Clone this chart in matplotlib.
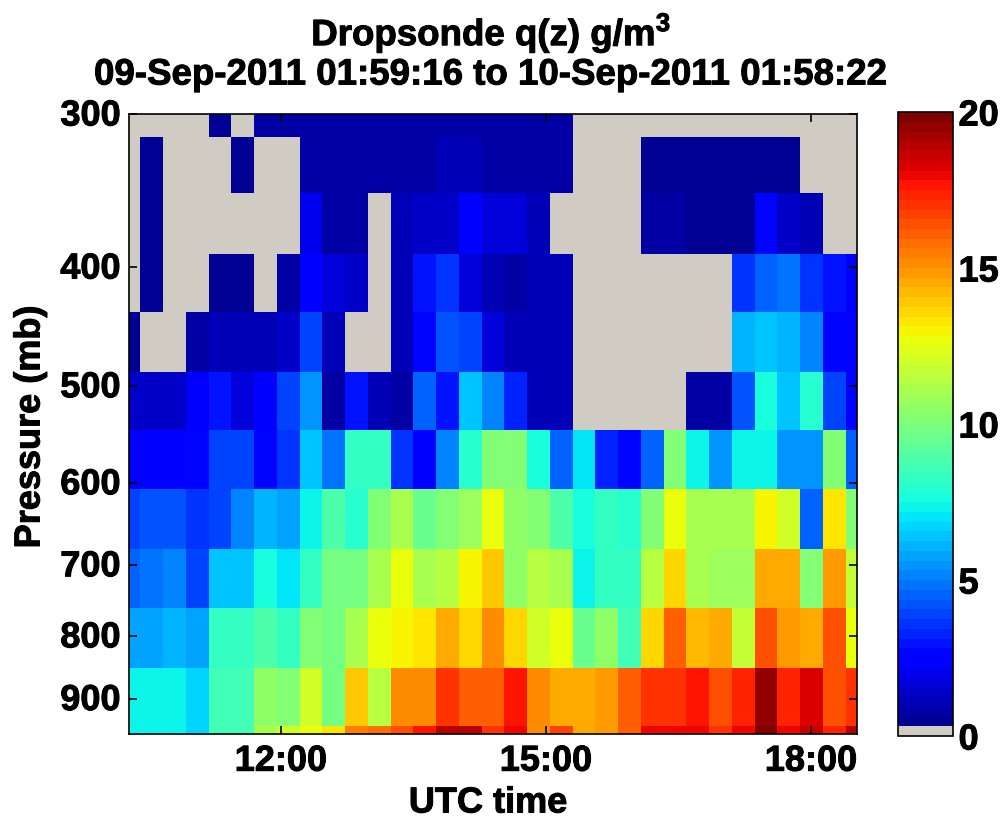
import numpy as np
import matplotlib
matplotlib.use('Agg')
import matplotlib.pyplot as plt
import matplotlib.patheffects as pe
from matplotlib.colors import ListedColormap
from matplotlib.transforms import ScaledTranslation

plt.rcParams['font.family'] = ['Liberation Sans', 'DejaVu Sans']
plt.rcParams['font.weight'] = 'bold'
plt.rcParams['mathtext.fontset'] = 'custom'
plt.rcParams['mathtext.rm'] = 'Liberation Sans'
plt.rcParams['mathtext.bf'] = 'Liberation Sans:bold'

# drop times in hours UTC, one column per sonde
time_start = 10.28
time_end = 18.52
n_sondes = 33

# layer edges in mb, top to bottom
pressure_edges = [300, 313, 348, 390, 435, 487, 543, 607, 680, 759, 850, 948, 962]

# q in g/m3 per layer, 0 means no data (grey)
q_300 = [0, 0, 0, 0, .5, 0, .7, .7, .7, .7, .7, .7, .7, .7, .8, .8, .7, .7, .7, .7,
         0, 0, 0, 0, 0, 0, 0, 0, 0, 0, 0, 0, 0]
q_330 = [0, .5, 0, 0, 0, .5, 0, 0, .8, .8, .8, .8, .8, .8, 1.2, 1.2, .9, .8, .7, .7,
         0, 0, 0, .6, .6, .6, .6, .6, .6, .6, 0, 0, 0]
q_370 = [0, .5, 0, 0, 0, 0, 0, 0, 2, .8, .8, 0, 1, 1.5, 1.5, 2.4, 1.8, 1.6, 1.2, 0,
         0, 0, 0, .7, .7, .6, .6, .6, 2.6, 1.5, 1.2, 0, 0]
q_410 = [0, .5, 0, 0, .5, .5, 0, .8, 2.2, 1.8, 1.5, 0, 1, 3, 3.5, 1.8, 1.2, .9, 1, 1.2,
         0, 0, 0, 0, 0, 0, 0, 3.5, 4.5, 4.7, 3.7, 3, 2.2]
q_460 = [.6, 0, 0, .8, 1, 1, 1, 1.5, 4, 1, 0, 0, 1, 2.5, 4.2, 3.8, 1.7, 1.2, 1, 1.1,
         0, 0, 0, 0, 0, 0, 0, 6, 6.5, 6.2, 5, 2.5, 2.8]
q_515 = [1.5, 1.5, 1.4, 2.4, 3, 1.7, 2.4, 3.8, 5.5, .9, 3, 1, .9, 4.4, 3, 6.3, 5, 3.2, 1, 1.1,
         0, 0, 0, 0, 0, .7, .7, 4.2, 7.7, 6.5, 8, 4, 2.5]
q_575 = [2.2, 2.3, 2.3, 2.5, 3.9, 3.9, 2.6, 3.7, 6.5, 4.7, 8.2, 8.2, 3.5, 2.2, 5, 8, 10, 10, 7.5, 4.4,
         7, 3.2, 2.7, 4.6, 10, 7.3, 5.6, 7.3, 7.2, 5.5, 5.5, 10, 4.5]
q_640 = [3.9, 4.1, 4.1, 3.7, 3.9, 5.2, 6, 5.7, 7.3, 9, 8, 10, 11, 9.5, 10, 10.8, 12.5, 10.5, 10, 9,
         7.5, 8.3, 8, 10, 12.5, 11.2, 11.2, 11.2, 13, 12, 4.5, 13.3, 10]
q_720 = [4.6, 4.8, 5, 3.8, 6.3, 6.3, 7.5, 7.1, 8.3, 9.7, 9.7, 11, 12.7, 11.2, 11.3, 13, 13.8, 10.5, 11.5, 11,
         7.4, 8.4, 8.2, 11.3, 13.5, 11, 10.8, 10.8, 14.4, 14.4, 10.2, 14.8, 11.8]
q_800 = [5.7, 5.7, 6.2, 5.8, 8.3, 8.3, 9, 8.4, 10, 9.8, 11.2, 12.6, 13, 13.3, 14.6, 13.7, 15.2, 13.5, 12, 12.5,
         9.5, 10.5, 8.7, 13.5, 16.2, 14.2, 14.6, 11.8, 16.3, 14.8, 14.5, 16.3, 12.8]
q_900 = [7.2, 7.2, 7.4, 6.6, 8.5, 8.5, 10.4, 10.3, 12, 9.7, 13.8, 11.5, 15, 15, 17, 16, 16, 17.5, 15, 14.5,
         14.5, 14.8, 16, 17, 17, 17.5, 16.5, 17.2, 19.5, 17.3, 18.2, 16.5, 17]
q_955 = [7.2, 7.2, 7.4, 6.6, 8.5, 8.5, 11, 12, 12.7, 13.4, 15.5, 15.7, 16.5, 17.8, 19, 19, 17, 18, 15, 16.8,
         14.5, 14.8, 16, 18, 18, 18, 17, 18, 19.7, 18, 18.5, 17.3, 18.8]

pressure_ticks = [300, 400, 500, 600, 700, 800, 900]
time_ticks = [12, 15, 18]
time_labels = ['12:00', '15:00', '18:00']
cbar_ticks = [0, 5, 10, 15, 20]

W, H = 1002, 823
fig = plt.figure(figsize=(W / 100, H / 100), dpi=100)
ax = fig.add_axes([129 / W, 1 - 734 / H, 728 / W, 620 / H])

# jet with the lowest colour swapped for grey
jet = plt.get_cmap('jet', 64)
colors = jet(np.arange(64))
colors[0] = matplotlib.colors.to_rgba('#d0ccc4')
cmap = ListedColormap(colors)

q = np.array([q_300, q_330, q_370, q_410, q_460, q_515, q_575, q_640, q_720, q_800, q_900, q_955])
times = np.linspace(time_start, time_end, n_sondes)
step = times[1] - times[0]
time_edges = np.append(times - step / 2, times[-1] + step / 2)

mesh = ax.pcolormesh(time_edges, pressure_edges, q, cmap=cmap, vmin=0, vmax=20)
ax.set_yscale('log')
ax.set_xlim(time_start, time_end)
ax.set_ylim(962, 300)
ax.minorticks_off()
ax.set_yticks(pressure_ticks)
ax.set_yticklabels([str(p) for p in pressure_ticks])
ax.set_xticks(time_ticks)
ax.set_xticklabels(time_labels)
ax.tick_params(axis='both', which='major', direction='in', length=6, width=1.2,
               top=True, right=True, labelsize=26, pad=7)
ax.tick_params(axis='y', which='minor', left=False, right=False, labelleft=False)
ax.tick_params(axis='y', pad=6)
for s in ax.spines.values():
    s.set_linewidth(1.2)

# y tick labels sit a little above their ticks in the reference
lift = ScaledTranslation(0, 2 / 100, fig.dpi_scale_trans)
for t in ax.get_yticklabels():
    t.set_transform(t.get_transform() + lift)

labels = [
    fig.text(30 / W, 1 - 427 / H, 'Pressure (mb)', rotation=90, fontsize=26, ha='center', va='center'),
    fig.text(488 / W, 1 - 803 / H, 'UTC time', fontsize=26, ha='center', va='center'),
    fig.text(491 / W, 1 - 33 / H, 'Dropsonde q(z) g/m$^{3}$', fontsize=26.4, ha='center', va='center'),
    fig.text(489 / W, 1 - 75 / H, '09-Sep-2011 01:59:16 to 10-Sep-2011 01:58:22', fontsize=26.4,
             ha='center', va='center'),
]

cax = fig.add_axes([898 / W, 1 - 736 / H, 55 / W, 624 / H])
cb = fig.colorbar(mesh, cax=cax)
cb.set_ticks(cbar_ticks)
cb.ax.tick_params(length=0, labelsize=26, pad=4)
cb.outline.set_linewidth(1.2)

# reference type is a bit heavier than Liberation bold
thick = [pe.withStroke(linewidth=0.7, foreground='black')]
for t in labels + ax.get_xticklabels() + ax.get_yticklabels() + cb.ax.get_yticklabels():
    t.set_path_effects(thick)

fig.savefig('out.png', dpi=100)
